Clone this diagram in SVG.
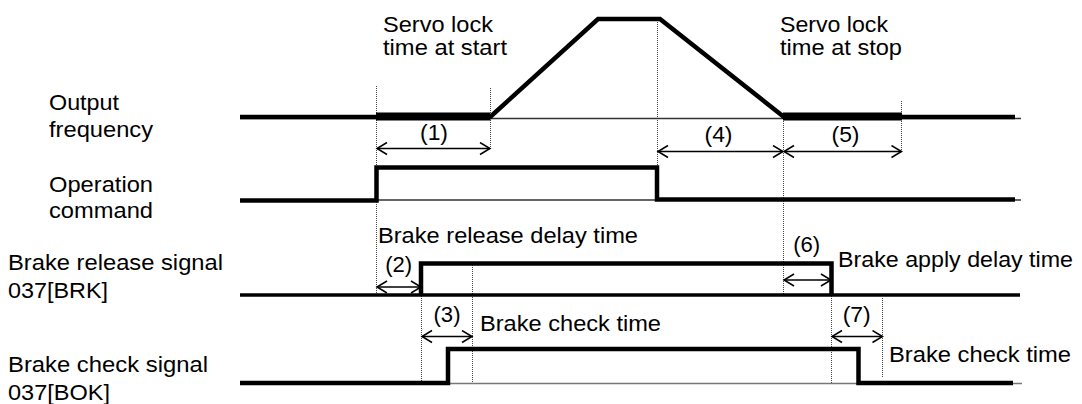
<svg xmlns="http://www.w3.org/2000/svg" width="1082" height="404" viewBox="0 0 1082 404">
<style>
text{font-family:"Liberation Sans",Arial,sans-serif;font-size:21.5px;fill:#000}
.c{text-anchor:middle}
.sig{fill:none;stroke:#000;stroke-width:4.5;stroke-linejoin:miter;stroke-linecap:butt}
.servo{fill:none;stroke:#000;stroke-width:8}
.base{fill:none;stroke:#333;stroke-width:1.3}
.dot{fill:none;stroke:#444;stroke-width:1;stroke-dasharray:1 1}
.dim{fill:none;stroke:#000;stroke-width:1.3;marker-start:url(#ah);marker-end:url(#ah)}
</style>
<defs>
<marker id="ah" markerUnits="userSpaceOnUse" markerWidth="14" markerHeight="16" refX="11" refY="7" orient="auto-start-reverse" viewBox="0 0 14 16">
<path d="M1,1 L11,7 L1,13" fill="none" stroke="#000" stroke-width="1.5"/>
</marker>
</defs>
<rect width="1082" height="404" fill="#fff"/>

<g id="timing-markers">
<line class="dot" x1="376.5" y1="86" x2="376.5" y2="295"/>
<line class="dot" x1="490.5" y1="88" x2="490.5" y2="150"/>
<line class="dot" x1="657.5" y1="22" x2="657.5" y2="165"/>
<line class="dot" x1="783.5" y1="119" x2="783.5" y2="295"/>
<line class="dot" x1="901.5" y1="101" x2="901.5" y2="152"/>
<line class="dot" x1="421.5" y1="296" x2="421.5" y2="382"/>
<line class="dot" x1="472.5" y1="265" x2="472.5" y2="383"/>
<line class="dot" x1="831.5" y1="296" x2="831.5" y2="383"/>
<line class="dot" x1="882.5" y1="298" x2="882.5" y2="378"/>
</g>

<g id="output-frequency">
<text x="49" y="110" textLength="70" lengthAdjust="spacingAndGlyphs">Output</text>
<text x="49" y="136.5" textLength="104" lengthAdjust="spacingAndGlyphs">frequency</text>
<line class="base" x1="240" y1="118.5" x2="1021" y2="118.5"/>
<line class="sig" x1="240" y1="117" x2="378" y2="117"/>
<line class="servo" x1="376" y1="116.5" x2="490" y2="116.5"/>
<polyline class="sig" points="489,118 598,19 660,19 784,117"/>
<line class="servo" x1="783" y1="116.5" x2="902" y2="116.5"/>
<line class="sig" x1="900" y1="117" x2="1015" y2="117"/>
</g>

<g id="operation-command">
<text x="49" y="191.5" textLength="104" lengthAdjust="spacingAndGlyphs">Operation</text>
<text x="49" y="217.5" textLength="104" lengthAdjust="spacingAndGlyphs">command</text>
<line class="base" x1="240" y1="200" x2="1021" y2="200"/>
<polyline class="sig" points="240,200.5 376.5,200.5 376.5,167.5 657,167.5 657,199.5 1015,199.5"/>
</g>

<g id="brake-release-signal">
<text x="8" y="270" textLength="215" lengthAdjust="spacingAndGlyphs">Brake release signal</text>
<text x="8" y="297.5" textLength="100" lengthAdjust="spacingAndGlyphs">037[BRK]</text>
<line class="sig" x1="240" y1="295" x2="1020" y2="295" style="stroke-width:3.5"/>
<polyline class="sig" points="421,295 421,263.5 831.5,263.5 831.5,295"/>
</g>

<g id="brake-check-signal">
<text x="8" y="371.5" textLength="200" lengthAdjust="spacingAndGlyphs">Brake check signal</text>
<text x="8" y="399.5" textLength="102" lengthAdjust="spacingAndGlyphs">037[BOK]</text>
<line class="base" x1="240" y1="383.5" x2="1022" y2="383.5" style="stroke:#777;stroke-width:1.5"/>
<polyline class="sig" points="240,383 448,383 448,349 858.5,349 858.5,383 1013,383"/>
</g>

<g id="annotations">
<text x="383" y="31.5" textLength="110" lengthAdjust="spacingAndGlyphs">Servo lock</text>
<text x="383" y="55" textLength="124" lengthAdjust="spacingAndGlyphs">time at start</text>
<text x="780" y="31.5" textLength="108" lengthAdjust="spacingAndGlyphs">Servo lock</text>
<text x="780" y="55" textLength="122" lengthAdjust="spacingAndGlyphs">time at stop</text>
<text x="378" y="242.5" textLength="260" lengthAdjust="spacingAndGlyphs">Brake release delay time</text>
<text x="838" y="266.5" textLength="235" lengthAdjust="spacingAndGlyphs">Brake apply delay time</text>
<text x="480" y="331" textLength="181" lengthAdjust="spacingAndGlyphs">Brake check time</text>
<text x="889" y="361.5" textLength="182" lengthAdjust="spacingAndGlyphs">Brake check time</text>
<text class="c" x="434" y="140" textLength="28" lengthAdjust="spacingAndGlyphs">(1)</text>
<text class="c" x="718.5" y="141.5" textLength="28" lengthAdjust="spacingAndGlyphs">(4)</text>
<text class="c" x="845.5" y="141.5" textLength="28" lengthAdjust="spacingAndGlyphs">(5)</text>
<text class="c" x="398.7" y="271.5" textLength="27" lengthAdjust="spacingAndGlyphs">(2)</text>
<text class="c" x="447" y="321.5" textLength="27" lengthAdjust="spacingAndGlyphs">(3)</text>
<text class="c" x="806.7" y="251.5" textLength="27" lengthAdjust="spacingAndGlyphs">(6)</text>
<text class="c" x="856.7" y="321.5" textLength="28" lengthAdjust="spacingAndGlyphs">(7)</text>
</g>

<g id="connectors">
<line class="dim" x1="377" y1="148.5" x2="490" y2="148.5"/>
<line class="dim" x1="658" y1="151.5" x2="783" y2="151.5"/>
<line class="dim" x1="784" y1="151.5" x2="901.5" y2="151.5"/>
<line class="dim" x1="377" y1="287" x2="421" y2="287"/>
<line class="dim" x1="422" y1="336.5" x2="472" y2="336.5"/>
<line class="dim" x1="784" y1="280" x2="831" y2="280"/>
<line class="dim" x1="832" y1="336.5" x2="882.5" y2="336.5"/>
</g>
</svg>
